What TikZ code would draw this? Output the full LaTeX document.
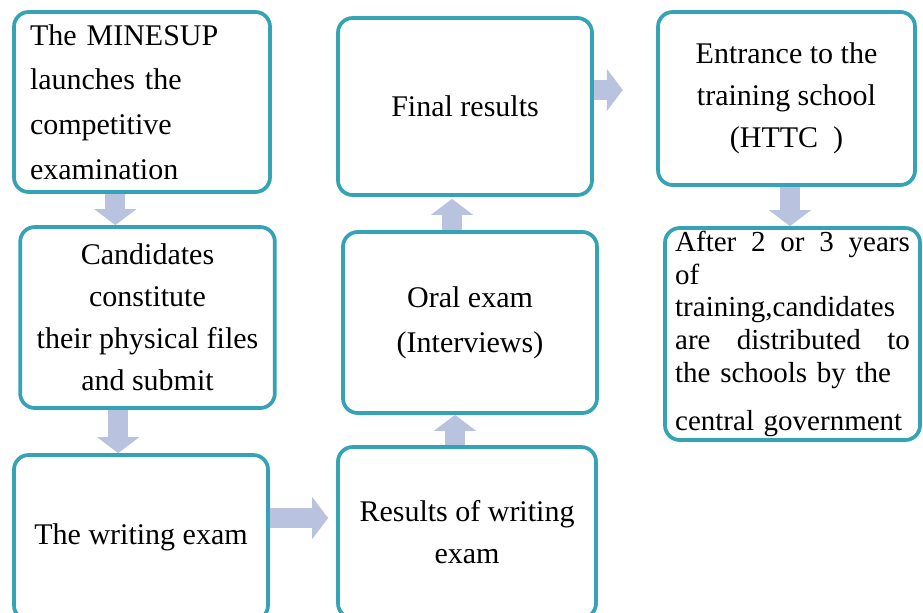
\documentclass[tikz,border=0pt]{standalone}
\usepackage{fontspec}
\setmainfont{Liberation Serif}
\usepackage{tikz}
\usetikzlibrary{arrows.meta, positioning, backgrounds, calc}
\usepackage{xcolor}
\definecolor{rand}{HTML}{35A3B6}
\definecolor{pfeilfarbe}{HTML}{B9C2DE}
\newcommand{\schrift}{\fontsize{22.5}{31.5}\selectfont}
\newcommand{\voll}[1]{\leavevmode\hbox to 176pt{#1}}
\tikzset{
  kasten/.style={draw=rand, line width=2.8pt, rounded corners=11pt, fill=white, align=center, font=\schrift, inner sep=0pt},
  blockpfeil/.style={-{Triangle[length=12pt, width=31pt]}, line width=15pt, pfeilfarbe},
}

\begin{document}
\begin{tikzpicture}[x=0.75pt, y=-0.75pt]
    \useasboundingbox (0,0) rectangle (923,612);

    % left column
    \node[kasten, minimum width=192pt, minimum height=135pt, text width=168pt, align=left] (M) at (142,102)
      {The MINESUP\\[2pt]launches the\\[2pt]competitive\\[2pt]examination};
    \node[kasten, minimum width=191pt, minimum height=135.75pt] (K) at (147.5,317.5)
      {Candidates\\constitute\\their physical files\\and submit};
    \node[kasten, minimum width=190.5pt, minimum height=123.75pt] (S) at (141,537.5) {The writing exam};

    % middle column
    \node[kasten, minimum width=193.5pt, minimum height=128.25pt] (R) at (467,532.5)
      {Results of writing\\exam};
    \node[kasten, minimum width=190.5pt, minimum height=135.75pt] (O) at (470,322.5)
      {Oral exam\\[2pt](Interviews)};
    \node[kasten, minimum width=190.5pt, minimum height=132.75pt] (F) at (465,106.5) {Final results};

    % right column
    \node[kasten, minimum width=192.75pt, minimum height=129.75pt] (A) at (786.5,98.5)
      {Entrance to the\\training school\\(HTTC~~)};
    \node[kasten, minimum width=191.25pt, minimum height=159pt, text width=176pt, align=left,
      font=\fontsize{21.75}{24.5}\selectfont] (V) at (792.5,334)
      {\voll{After\hfill 2\hfill or\hfill 3\hfill years}\\of\\\mbox{training,candidates}\\
       \voll{are\hfill distributed\hfill to}\\\mbox{the schools by the}\\[12pt]\mbox{central government}};

    \begin{scope}[on background layer]
      \draw[blockpfeil] ([xshift=-20pt]M.south) -- ([xshift=-20pt]M.south |- K.north);
      \draw[blockpfeil] ([xshift=-22pt]K.south) -- ([xshift=-22pt]K.south |- S.north);
      \draw[blockpfeil, shorten >=6pt] ([yshift=14.6pt]S.east) -- ([yshift=14.6pt]S.east -| R.west);
      \draw[blockpfeil] ([xshift=-9pt]R.north) -- ([xshift=-9pt]R.north |- O.south);
      \draw[blockpfeil, shorten >=1.5pt] ([xshift=-13.5pt]O.north) -- ([xshift=-13.5pt]O.north |- F.south);
      \draw[blockpfeil, shorten >=25pt] ([yshift=12.4pt]F.east) -- ([yshift=12.4pt]F.east -| A.west);
      \draw[blockpfeil] ([xshift=2.6pt]A.south) -- ([xshift=2.6pt]A.south |- V.north);
    \end{scope}
  \end{tikzpicture}
\end{document}
